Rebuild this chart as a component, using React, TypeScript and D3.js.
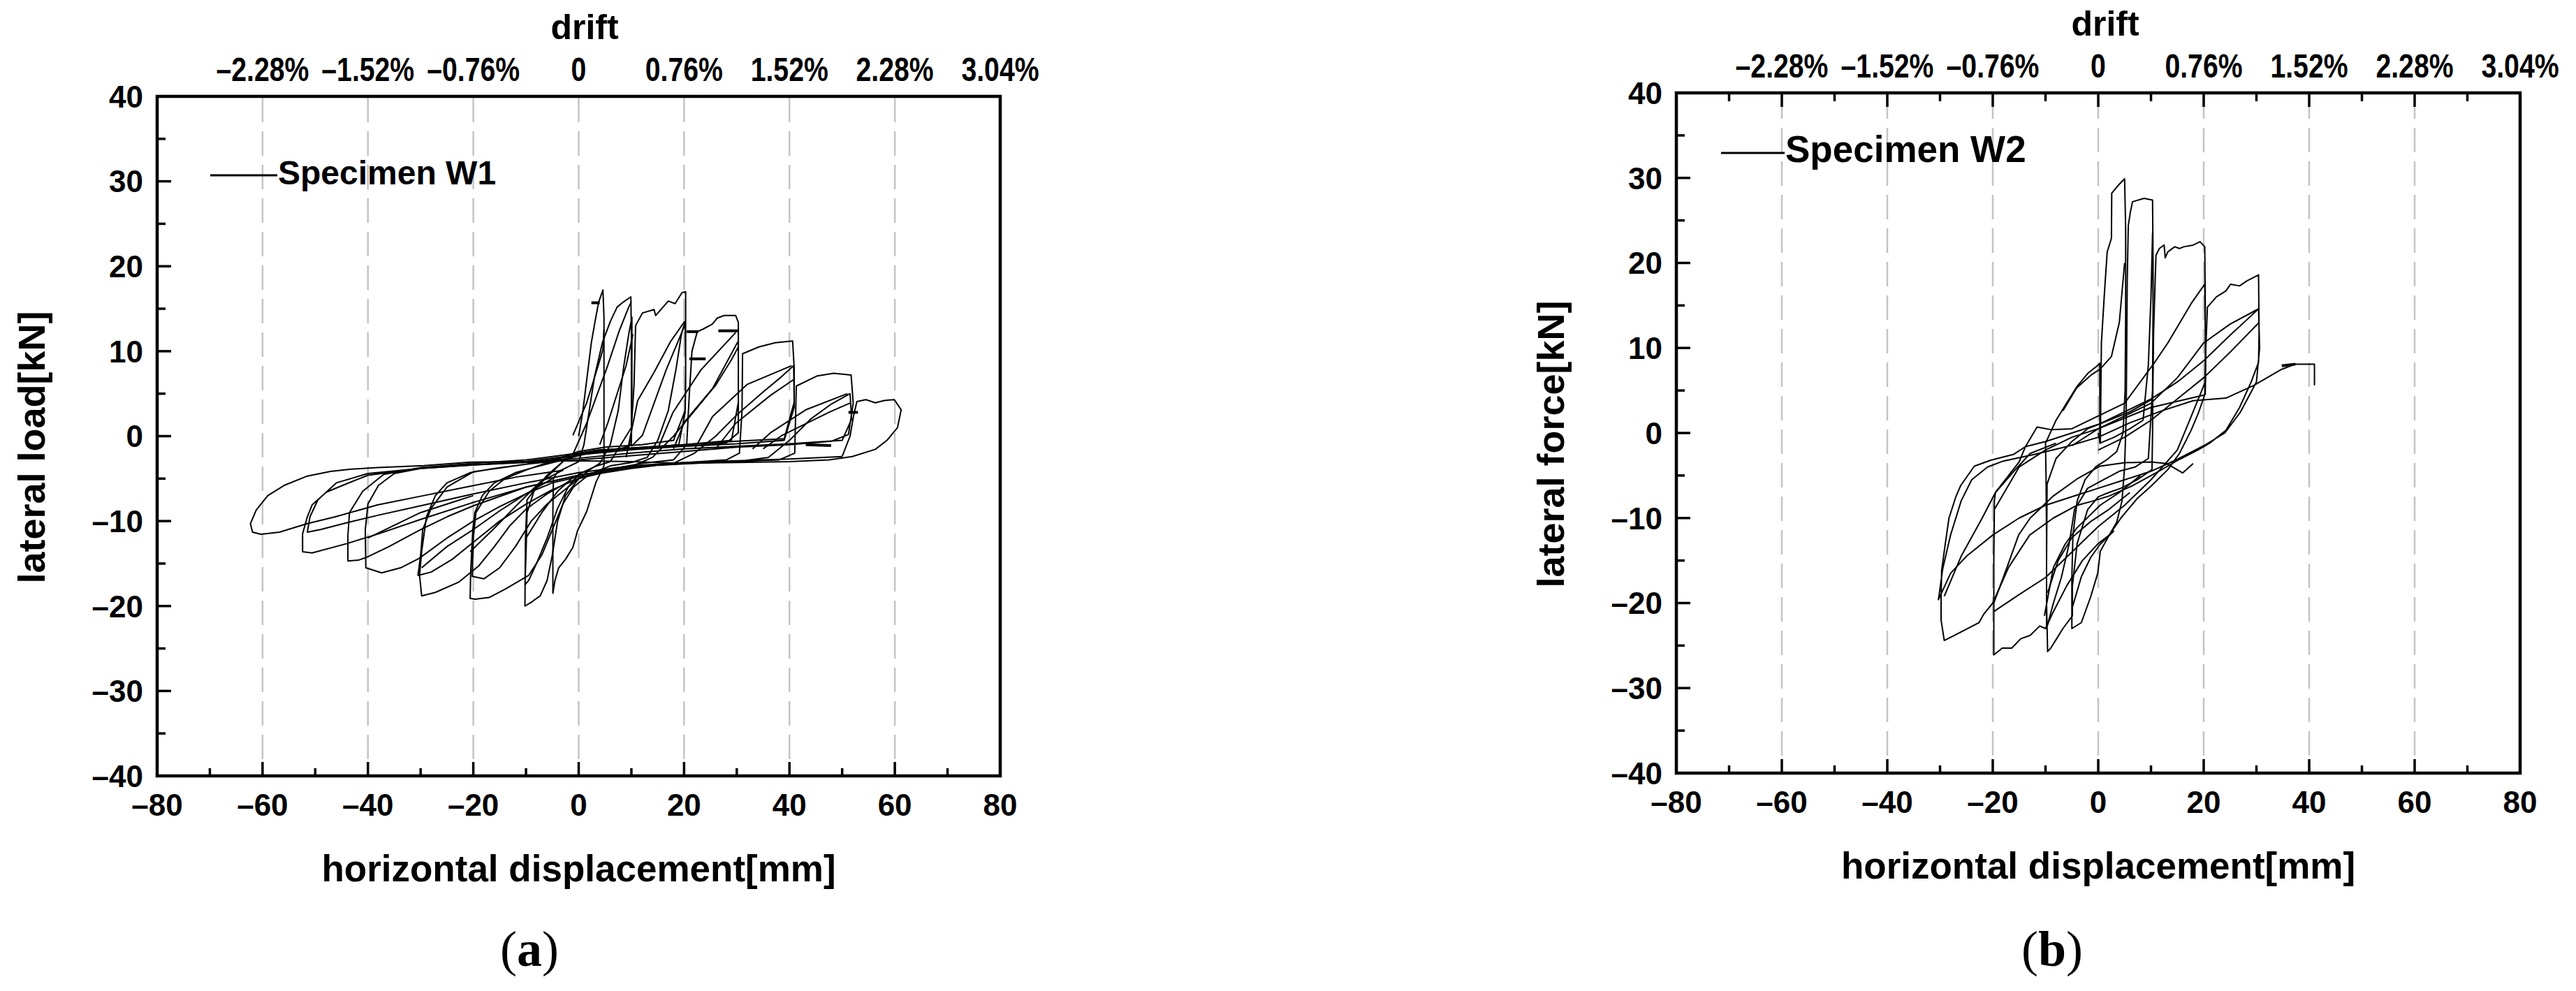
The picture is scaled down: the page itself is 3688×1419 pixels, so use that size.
import React from 'react';
import * as d3 from 'd3';

type Pt = [number, number];

// ---------- axis / tick data ----------
const X_MAJOR = [-60, -40, -20, 0, 20, 40, 60];
const X_MINOR = [-70, -50, -30, -10, 10, 30, 50, 70];
const X_LABELS = [-80, -60, -40, -20, 0, 20, 40, 60, 80];
const Y_MAJOR = [-30, -20, -10, 0, 10, 20, 30];
const Y_MINOR = [-35, -25, -15, -5, 5, 15, 25, 35];
const Y_LABELS = [-40, -30, -20, -10, 0, 10, 20, 30, 40];
const GRID_X = [-60, -40, -20, 0, 20, 40, 60];
const DRIFT_POS = [-60, -40, -20, 0, 20, 40, 60, 80];
const DRIFT_LABELS = ['–2.28%', '–1.52%', '–0.76%', '0', '0.76%', '1.52%', '2.28%', '3.04%'];

// ---------- Specimen W1 (displacement mm, load kN) ----------
const w1Cycle5: Pt[] = [
  [0, 0], [0.8, 3], [1.6, 7], [2.4, 11], [3.1, 13.5], [3.8, 15.8], [4.6, 17.2], [4.8, 14], [4.8, 8], [4.8, 2],
  [4.8, -3.5], [3.3, -5.4], [1.5, -8.9], [-0.2, -11.1], [-1.1, -13.1], [-2.5, -14.5], [-3.8, -15.5], [-4.5, -17],
  [-4.9, -18.5], [-4.9, -14], [-4.9, -9], [-4.8, -5], [-4, -4.2], [-2, -3.6],
];
const w1Cycle10: Pt[] = [
  [-2, -3.6], [0, -3], [1, -1], [2, 3], [3, 7], [4.5, 11], [6, 13.5], [7.3, 15.2], [8.5, 15.8], [9.9, 16.4],
  [10, 12], [10, 6], [10, 0], [9.5, -1.3], [6, -1.6], [2, -1.8], [-1, -2.2], [-3, -3], [-5.5, -4.5], [-8, -6],
  [-9.8, -7.5], [-10.1, -12], [-10.2, -20], [-9.1, -19.6], [-7.3, -18.8], [-6, -17], [-5, -14], [-4, -10],
  [-2.5, -7], [0, -5], [2, -4], [4, -3.2], [6, -1], [7.5, 3], [8.5, 8], [9.5, 12], [10.1, 14], [10.1, 5],
  [10, -1], [8, -1.5], [4, -1.6], [0, -2], [-3, -3], [-6, -4.6], [-8.5, -6.5], [-9.8, -9], [-10, -14],
  [-10.2, -17.5], [-9.5, -17], [-8, -15], [-6, -12], [-4, -8.5], [-2, -6], [0, -4.5], [3, -3.6], [6, -3],
];
const w1Cycle20: Pt[] = [
  [6, -3], [8, -1], [10, 1], [10.5, 6], [10.8, 13], [12.1, 14.5], [14.3, 14.9], [14.6, 14.2], [17, 15.9],
  [18.3, 15.6], [19.6, 16.9], [20.3, 17], [20.3, 12], [20.3, 6], [20.2, 2.8], [19, -1], [14, -1.3], [8, -1.5],
  [3, -1.7], [0, -2.2], [-3, -2.8], [-8, -3.6], [-12, -4.3], [-16, -5.5], [-18.3, -7], [-19.7, -9], [-20.1, -11],
  [-20.5, -16], [-20.6, -19.1], [-19.7, -19.2], [-17, -19], [-13.9, -18], [-9.5, -16.4], [-7, -14], [-5, -11],
  [-3, -8], [-1, -6], [2, -4.5], [6, -3.5], [10, -3.1], [13, -2.5], [15, -0.5], [17, 3], [18.5, 8], [19.5, 12],
  [20.2, 13.5], [20.3, 8], [20.2, 3], [18, -0.5], [12, -1], [5, -1.3], [0, -1.8], [-5, -2.9], [-10, -4],
  [-14, -5], [-17, -6.5], [-19.5, -9], [-20, -12], [-20.2, -16.5], [-18, -16.8], [-15, -15.5], [-12, -13],
  [-9, -10], [-6, -8], [-3, -6.5], [0, -5], [5, -4], [12, -3.2], [18, -2.8],
];
const w1Cycle30: Pt[] = [
  [18, -2.8], [20.5, -1], [21, 5], [21.5, 10], [22.5, 12.3], [23.6, 12.6], [25.4, 13.2], [26.3, 13.9],
  [27.6, 14.2], [29.8, 14.2], [30.3, 13.4], [30.3, 8], [30.3, 0.4], [28, -0.8], [22, -1.1], [15, -1.3], [8, -1.5],
  [2, -2], [-4, -2.9], [-10, -3.3], [-16, -3.8], [-20.6, -4.3], [-25, -5.5], [-27.2, -7], [-28.9, -9.5],
  [-29.8, -13.6], [-30.2, -16.4], [-29.8, -18.8], [-27.2, -18.4], [-22.8, -17.2], [-19, -15.3], [-16, -13],
  [-13, -10.5], [-10, -8.6], [-6, -6.8], [-2, -5.4], [3, -4.4], [10, -3.6], [14, -2.5], [18, 0], [22, 3],
  [26, 6], [29, 9], [30.3, 10.5], [30.3, 4], [29, -0.5], [20, -1], [10, -1.4], [0, -2.2], [-10, -3.3],
  [-20, -4.2], [-25, -6], [-28, -8.5], [-29.6, -11], [-30, -14], [-30.5, -16.4], [-28, -16], [-24, -14.5],
  [-20, -12.5], [-15, -10], [-10, -8], [-5, -6.3], [0, -5], [8, -3.8], [18, -3.2], [28, -2.8],
];
const w1Cycle40: Pt[] = [
  [28, -2.8], [30.5, -2], [31, 3], [31.1, 9.7], [34.2, 10.5], [37.3, 11], [40.6, 11.2], [40.9, 8], [40.9, 3.4],
  [39, -0.5], [30, -0.9], [20, -1.2], [10, -1.6], [0, -2.2], [-10, -3], [-20, -3.4], [-30, -3.8], [-35, -4.4],
  [-38, -5.8], [-40, -8], [-40.5, -11], [-40.4, -15.5], [-37.4, -16.1], [-33.8, -15.5], [-30.3, -14.4],
  [-25, -12], [-20, -10], [-15, -8.3], [-10, -6.8], [-5, -5.5], [0, -4.8], [10, -3.8], [18, -3.2], [22, -2],
  [26, 0], [30, 2.5], [35, 5.2], [38.5, 7], [40.8, 8.3], [40.9, 4], [39, -0.3], [30, -0.6], [20, -1],
  [10, -1.4], [0, -2], [-10, -2.8], [-20, -3.2], [-30, -3.7], [-37, -4.5], [-41, -6.5], [-43.5, -9],
  [-43.8, -11.7], [-43.8, -14.7], [-41.8, -14.6], [-40, -14.2], [-36, -13], [-30, -11], [-25, -9.5],
  [-20, -8.2], [-10, -6], [0, -4.6], [10, -3.6], [25, -3.1], [38, -2.8],
];
const w1Cycle50: Pt[] = [
  [38, -2.8], [41, -2], [41.3, 5.9], [45.3, 7.1], [48.4, 7.4], [51.7, 7.2], [52.1, 3.9], [51.2, 0.2],
  [48, -0.6], [40, -1], [30, -1.3], [20, -1.8], [10, -2.3], [0, -2.8], [-10, -3.1], [-20, -3.4], [-30, -3.8],
  [-40, -4.6], [-44.8, -5.8], [-47.9, -6.6], [-50.6, -8.1], [-51.5, -9.5], [-52.4, -11.5], [-52.4, -13.6],
  [-50.6, -13.75], [-44, -12.65], [-38, -11.5], [-30, -9.8], [-20, -7.8], [-10, -6], [0, -4.6], [10, -3.6],
  [20, -3.2], [30, -3], [36, -2.5], [40, -0.5], [44, 2], [48, 3.8], [51.5, 5], [51.8, 2], [50, -0.5],
  [40, -0.9], [30, -1.2], [20, -1.5], [10, -2], [0, -2.6], [-10, -3], [-20, -3.4], [-30, -3.8], [-40, -4.4],
  [-46, -5.5], [-49.5, -7.5], [-51, -9.5], [-51.5, -11.3], [-49, -11], [-44, -10.2], [-38, -9.3], [-30, -8.2],
  [-20, -6.8], [-10, -5.5], [0, -4.3], [10, -3.5], [20, -3.1], [30, -2.9], [40, -2.7], [50, -2.4],
];
const w1Cycle60: Pt[] = [
  [50, -2.4], [51.5, 0], [52.2, 2.5], [52.8, 4.07], [54.5, 4.3], [56.3, 3.93], [58, 4.2], [59.9, 4.3],
  [61.2, 3.1], [60.5, 1], [58.5, -0.5], [56.3, -1.55], [51.9, -2.4], [47.5, -2.8], [40, -3], [30, -3.1],
  [20, -3.2], [10, -3], [0, -2.9], [-10, -3], [-20.6, -3.06], [-29.4, -3.47], [-38.2, -3.7], [-43.5, -3.9],
  [-47.1, -4.15], [-51.5, -4.7], [-55.9, -5.8], [-59, -7], [-61.2, -8.7], [-62.3, -10.3], [-61.9, -11.3],
  [-60.3, -11.55], [-56.8, -11.3], [-51.5, -10.3], [-46.2, -9.5], [-38.2, -8.1], [-29.4, -7], [-20.6, -5.9],
  [-11.7, -4.8], [-2.9, -4],
];
const w1Reloads: Pt[][] = [
  [[-1.1, 0.1], [1.5, 3.9], [3.7, 8.3], [4.6, 10.2], [4.8, 12.5]],
  [[-1, -2], [1.5, 1.5], [5.5, 8.3], [7.7, 12.4], [9.5, 15.2], [10, 15.8]],
  [[4, -1], [5.5, 1.5], [9, 8.3], [10.3, 12]],
  [[9, -2.5], [11.2, 4.2], [14.3, 7.5], [17.4, 11.1], [20.1, 13.5]],
  [[10, -1.2], [12.1, 0.1], [16.6, 7.8], [20.1, 13]],
  [[15, -1.5], [17.9, 2.8], [23.2, 7.8], [29.8, 12.2]],
  [[18, -1.5], [20.1, 1.7], [25.4, 5.6], [30.2, 11.1]],
  [[22, -1.5], [25.4, 2.3], [32, 6.1], [40.4, 8.3]],
  [[26, -1.5], [29.8, 1.5], [36.4, 4.8], [40.9, 6.7]],
  [[33, -1.5], [36.4, 0.4], [43.1, 3.1], [51, 5]],
  [[35, -1.5], [38.6, 0.1], [47.5, 2.8], [51.5, 3.9]],
  [[-20.6, -13.6], [-16.1, -10.9], [-11.7, -8.1], [-7.3, -5.4], [-3, -4]],
  [[-29.8, -15.5], [-25, -13], [-20, -11], [-15, -8.8], [-10, -6.8], [-5, -5]],
  [[-10, -12], [-7, -9], [-4, -6.5], [-1, -4.8]],
  [[-40, -12], [-35, -10.5], [-30, -9], [-25, -8], [-20, -7]],
];
const w1Marks: Pt[][] = [
  [[2.4, 15.7], [4, 15.7]],
  [[20.5, 12.3], [22.7, 12.3]],
  [[26.5, 12.4], [30.3, 12.4]],
  [[21, 9.1], [24.1, 9.1]],
  [[43.1, -1], [47.9, -1.1]],
  [[51.2, 2.8], [53, 2.8]],
];

// ---------- Specimen W2 ----------
const w2Cycle5: Pt[] = [
  [0, 0], [0.4, -1.2], [0.5, 5], [0.6, 10.6], [1.2, 16.7], [1.7, 21.3], [2.5, 22.9], [2.56, 28.2], [3.9, 29.2],
  [5, 29.9], [5.2, 24], [5.2, 14], [5.1, 5], [4.7, 0], [3.5, -2.2], [1.5, -3.2], [-0.5, -4], [-2.5, -5.5],
  [-4, -8], [-4.8, -12], [-5, -17], [-5, -23], [-3.2, -22.3], [-1.4, -19.2], [-0.1, -16.5], [0.4, -13.9],
  [2.1, -12], [3.5, -10.5], [4.5, -8], [5, -4],
];
const w2Cycle10: Pt[] = [
  [5, -4], [5.3, 2], [5.4, 10], [5.5, 18], [5.7, 24.4], [6.1, 26], [6.5, 27.2], [8.7, 27.6], [10.3, 27.4],
  [10.4, 20], [10.4, 10], [10.3, 0], [10.2, -4.3], [7.4, -5.5], [4.3, -6.5], [2, -7], [0, -7.5], [-2, -9],
  [-4, -13], [-4.9, -18], [-4.9, -21.5], [-6.7, -23], [-8, -24.3], [-9, -25.3], [-9.6, -25.7], [-9.8, -20],
  [-9.8, -12], [-9.9, -5], [-10, -1.2], [-8, 1.5], [-6, 3.5], [-4, 5.5], [-2, 7], [0, 8], [0.3, 8.2], [0.3, 3],
  [0.3, -1.2], [3, -0.5], [6, 0.5], [8.5, 1.5], [9.5, 8], [10, 16], [10.3, 23.5], [10.4, 15], [10.3, 5],
  [9.5, -3], [7, -4], [4, -4.5], [1, -5.5], [-2, -6.5], [-4.5, -9], [-5.5, -13], [-7, -17], [-8.5, -20],
  [-9.8, -23], [-9.8, -15], [-9.7, -6], [-8, -3], [-5, -1], [-2, 0.5], [2, 1.5], [6, 2.5], [10.3, 4],
];
const w2Cycle20: Pt[] = [
  [10.3, 4], [10.5, 12], [10.8, 18], [10.95, 20.9], [11.6, 21.7], [12.5, 22.1], [12.7, 20.6], [13.2, 21.3],
  [14.5, 21.9], [15.4, 21.7], [16.2, 21.9], [18, 22.1], [19.3, 22.5], [20.2, 21.9], [20.3, 15], [20.3, 8],
  [20.2, 4.5], [18.9, 2.2], [17.6, 0.3], [15.4, -2.4], [13.2, -4.3], [10.1, -6.2], [7.4, -7.7], [4.3, -10],
  [2.1, -12], [0, -13], [-3, -15], [-6, -18], [-8.5, -21], [-10, -23], [-11.1, -22.7], [-12.9, -23.8],
  [-14.7, -24.2], [-16.4, -25.3], [-18.2, -25.3], [-19.8, -26.1], [-19.8, -20], [-19.8, -14], [-19.7, -8],
  [-19.5, -7], [-17, -5], [-15, -3.4], [-13.8, -1.6], [-11.6, 0.7], [-9, 0.4], [-5, 0.5], [0, 2], [5, 3.5],
  [10.7, 8.3], [13.2, 10.6], [15.4, 12.9], [17.6, 15.2], [20.2, 17.5], [20.3, 12], [20.3, 6], [17, 1],
  [15, -2], [10, -5.5], [5, -8.5], [0, -11], [-5, -14], [-10, -17], [-15, -19], [-19.8, -21], [-19.8, -15],
  [-19.7, -9], [-15, -4], [-10, -2], [-5, -0.5], [0, 0.5], [10, 3], [20.3, 4.5],
];
const w2Cycle30: Pt[] = [
  [20.3, 4.5], [20.4, 10], [20.7, 14.8], [22.4, 16], [24.2, 16.7], [25.1, 17.5], [26.8, 17.3], [28.2, 17.9],
  [30.4, 18.6], [30.5, 12], [30.4, 8.3], [29, 6], [26.8, 3], [24.2, 0.3], [21.1, -1.2], [18.9, -2],
  [15.4, -3.1], [10.95, -4.7], [6.5, -6.2], [2.1, -7.4], [-1, -8], [-4, -8.5], [-8.5, -10], [-13, -12],
  [-17, -15.8], [-20, -20], [-21.7, -21.3], [-22.6, -22.3], [-24.8, -23], [-27.9, -24], [-29.2, -24.4],
  [-29.8, -22], [-29.8, -19.6], [-29.7, -16.2], [-29, -13], [-28.3, -10], [-27, -7.5], [-26.1, -6.2],
  [-23.5, -3.9], [-20.4, -3.2], [-16, -2.5], [-13.8, -1.6], [-10, -1], [-5, 0], [0, 1], [5, 2.5], [10, 4],
  [15, 6], [20, 8.5], [25, 11.5], [28.5, 13.5], [30.4, 14.6], [30.6, 10], [30, 6], [27, 2.5], [24, 0],
  [20, -1.5], [15, -3.1], [10, -4.5], [5, -5.5], [0, -6.5], [-5, -7.5], [-10, -8.5], [-15, -10], [-20, -12],
  [-25, -14.5], [-28, -16.5], [-30.3, -19.6], [-29.5, -16], [-28, -12], [-26, -8], [-24, -5.5], [-21, -4],
  [-18, -3.3], [-12, -2.5], [-6, -1.6], [0, -0.5], [6, 1.2], [12, 2.6], [18, 3.8], [24.2, 4.1], [29.5, 5.6],
  [34.8, 7.5], [37.4, 8.1], [41, 8.1], [41, 5.6],
];
const w2Extras: Pt[][] = [
  [[-19.8, -20], [-17.3, -15.8], [-15.1, -12], [-12.9, -10], [-8.5, -7.4], [-4, -5.4], [0.35, -3.9], [5, -3.5],
    [10, -3.4], [13, -3.6], [16, -4.7], [18, -3.6]],
  [[-10.2, -21.5], [-8.5, -15.8], [-6.3, -13.1], [-4.1, -11.2], [0.35, -8.5], [4, -7], [8, -5]],
  [[-9.6, -18.8], [-7.6, -15], [-5, -12.3], [-1.4, -10.4], [2, -9], [6, -7]],
  [[-5, -20.7], [-3.2, -16.9], [-1.4, -14.6], [0.35, -13.1], [3, -11.5]],
  [[-6.7, 2.6], [-4.1, 5.3], [-1.4, 6.8], [0.35, 7.5], [2.5, 9], [4, 13], [5, 20]],
  [[-5, -1.5], [0, 0.5], [5, 2], [10, 3.5], [15, 6.5], [20, 10.6], [25, 12.8], [30.4, 14.6]],
  [[0, -2], [5, -0.5], [10, 1.5], [15, 4], [20, 6.5], [25, 9.5], [30.5, 13]],
  [[-29.2, -19.2], [-26, -14.5], [-22, -10], [-19.5, -7], [-16, -4.5], [-12.9, -2.4], [-8, -1.2]],
];
const w2Marks: Pt[][] = [
  [[34.8, 7.9], [37.4, 8.1]],
];

const W1_CYCLES = [w1Cycle5, w1Cycle10, w1Cycle20, w1Cycle30, w1Cycle40, w1Cycle50, w1Cycle60, ...w1Reloads];
const W2_CYCLES = [w2Cycle5, w2Cycle10, w2Cycle20, w2Cycle30, ...w2Extras];

const FONT = "'Liberation Sans', Arial, Helvetica, sans-serif";
const SERIF = "'Liberation Serif', 'Times New Roman', serif";

const fmt = (v: number) => (v < 0 ? '–' + Math.abs(v) : String(v));

interface PanelProps {
  x0: number; x1: number; y0: number; y1: number;
  cycles: Pt[][]; marks: Pt[][];
  yTitle: string; legend: string; caption: string;
  topTicks: boolean;
  legendX0: number; legendX1: number; legendY: number; legendFont: number;
  captionX: number;
  driftDy: number; driftTitleDy: number;
  driftTitleX: number;
}

function Panel(p: PanelProps) {
  const x = d3.scaleLinear().domain([-80, 80]).range([p.x0, p.x1]);
  const y = d3.scaleLinear().domain([-40, 40]).range([p.y1, p.y0]);
  const line = d3.line<Pt>().x((d) => x(d[0])).y((d) => y(d[1]));
  const tickW = 3.5;
  return (
    <g>
      {GRID_X.map((v) => (
        <line key={'g' + v} x1={x(v)} x2={x(v)} y1={p.y0 + 2} y2={p.y1 - 2}
          stroke="#c4c4c4" strokeWidth={2.5} strokeDasharray="35 13" />
      ))}
      {p.cycles.map((c, i) => (
        <path key={'c' + i} d={line(c) || ''} fill="none" stroke="#000" strokeWidth={2} strokeLinejoin="round" />
      ))}
      {p.marks.map((c, i) => (
        <path key={'m' + i} d={line(c) || ''} fill="none" stroke="#000" strokeWidth={4} />
      ))}
      <rect x={p.x0} y={p.y0} width={p.x1 - p.x0} height={p.y1 - p.y0} fill="none" stroke="#000" strokeWidth={4.5} />
      {Y_MAJOR.map((v) => (
        <line key={'ym' + v} x1={p.x0} x2={p.x0 + 20} y1={y(v)} y2={y(v)} stroke="#000" strokeWidth={tickW} />
      ))}
      {Y_MINOR.map((v) => (
        <line key={'yn' + v} x1={p.x0} x2={p.x0 + 12} y1={y(v)} y2={y(v)} stroke="#000" strokeWidth={tickW} />
      ))}
      {X_MAJOR.map((v) => (
        <line key={'xm' + v} x1={x(v)} x2={x(v)} y1={p.y1} y2={p.y1 - 20} stroke="#000" strokeWidth={tickW} />
      ))}
      {X_MINOR.map((v) => (
        <line key={'xn' + v} x1={x(v)} x2={x(v)} y1={p.y1} y2={p.y1 - 11} stroke="#000" strokeWidth={tickW} />
      ))}
      {p.topTicks && X_MAJOR.map((v) => (
        <line key={'tm' + v} x1={x(v)} x2={x(v)} y1={p.y0} y2={p.y0 + 20} stroke="#000" strokeWidth={tickW} />
      ))}
      {p.topTicks && X_MINOR.map((v) => (
        <line key={'tn' + v} x1={x(v)} x2={x(v)} y1={p.y0} y2={p.y0 + 12} stroke="#000" strokeWidth={tickW} />
      ))}
      {Y_LABELS.map((v) => (
        <text key={'yl' + v} x={p.x0 - 20} y={y(v)} dy="0.36em" textAnchor="end"
          fontFamily={FONT} fontWeight="bold" fontSize={44}>{fmt(v)}</text>
      ))}
      {X_LABELS.map((v) => (
        <text key={'xl' + v} x={x(v)} y={p.y1 + 57} textAnchor="middle"
          fontFamily={FONT} fontWeight="bold" fontSize={44}>{fmt(v)}</text>
      ))}
      {DRIFT_POS.map((v, i) => (
        <text key={'dl' + v} transform={`translate(${x(v)},${p.y0 - p.driftDy}) scale(0.8,1)`} textAnchor="middle"
          fontFamily={FONT} fontWeight="bold" fontSize={49}>{DRIFT_LABELS[i]}</text>
      ))}
      <text x={p.driftTitleX} y={p.y0 - p.driftTitleDy} textAnchor="middle" fontFamily={FONT} fontWeight="bold" fontSize={50}>drift</text>
      <text x={(p.x0 + p.x1) / 2} y={p.y1 + 151} textAnchor="middle" fontFamily={FONT} fontWeight="bold" fontSize={53}>
        horizontal displacement[mm]
      </text>
      <text transform={`translate(${p.x0 - 161},${(p.y0 + p.y1) / 2 + 16}) rotate(-90)`} textAnchor="middle"
        fontFamily={FONT} fontWeight="bold" fontSize={54}>{p.yTitle}</text>
      <line x1={p.legendX0} x2={p.legendX1} y1={p.legendY} y2={p.legendY} stroke="#000" strokeWidth={3} />
      <text x={p.legendX1 + 1} y={p.legendY + 13} fontFamily={FONT} fontWeight="bold" fontSize={p.legendFont}>{p.legend}</text>
      <text x={p.captionX} y={1383} textAnchor="middle" fontFamily={SERIF} fontSize={72}>
        (<tspan fontWeight="bold">{p.caption}</tspan>)
      </text>
    </g>
  );
}

export default function App() {
  return (
    <svg width={3688} height={1419} viewBox="0 0 3688 1419"
      style={{ position: 'absolute', left: 0, top: 0, background: '#fff' }}>
      <rect x={0} y={0} width={3688} height={1419} fill="#fff" />
      <Panel x0={225} x1={1432} y0={138} y1={1111} cycles={W1_CYCLES} marks={w1Marks}
        yTitle="lateral load[kN]" legend="Specimen W1" caption="a" topTicks={false}
        legendX0={301} legendX1={397} legendY={251} legendFont={48} captionX={758}
        driftDy={22} driftTitleDy={82} driftTitleX={837} />
      <Panel x0={2400} x1={3608} y0={133} y1={1107} cycles={W2_CYCLES} marks={w2Marks}
        yTitle="lateral force[kN]" legend="Specimen W2" caption="b" topTicks={true}
        legendX0={2464} legendX1={2555} legendY={219} legendFont={53} captionX={2938}
        driftDy={22} driftTitleDy={82} driftTitleX={3014} />
    </svg>
  );
}
